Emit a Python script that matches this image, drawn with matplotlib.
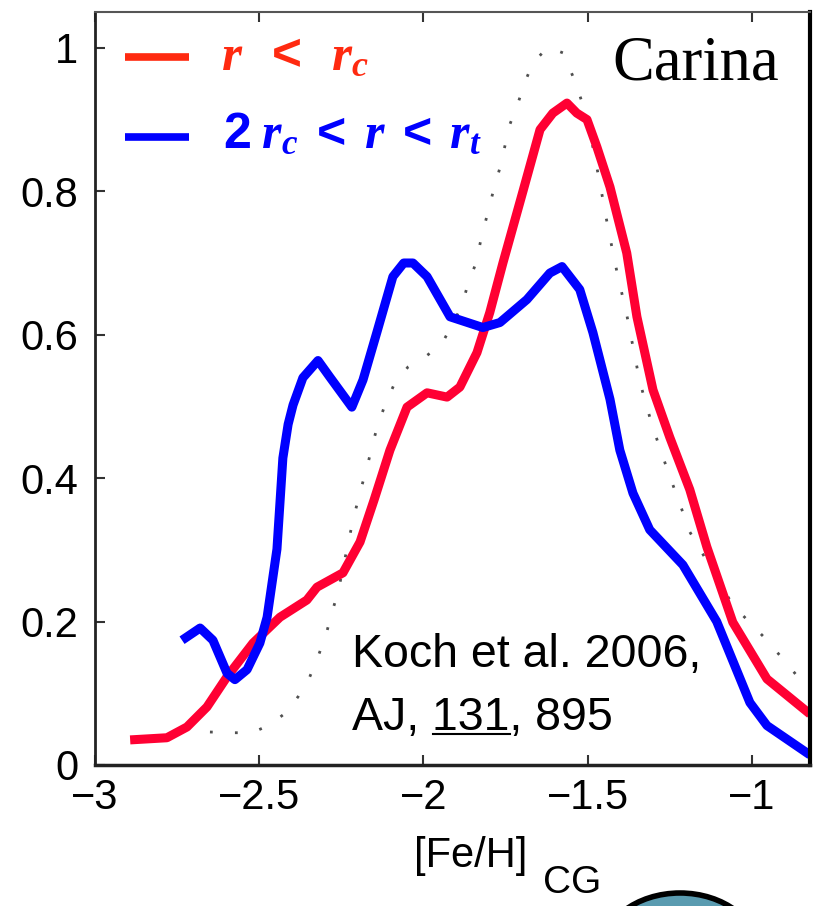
import matplotlib
matplotlib.use("Agg")
import matplotlib.pyplot as plt
from matplotlib import font_manager
from matplotlib.lines import Line2D
from matplotlib.patches import Ellipse

# ---------------- data ----------------
red_x = [-2.893, -2.781, -2.720, -2.659, -2.598, -2.519, -2.437, -2.355, -2.324,
         -2.245, -2.193, -2.150, -2.102, -2.050, -1.989, -1.928, -1.889, -1.837,
         -1.798, -1.758, -1.697, -1.645, -1.606, -1.563, -1.533, -1.502, -1.472,
         -1.432, -1.381, -1.350, -1.301, -1.250, -1.189, -1.137, -1.058, -0.954,
         -0.823]
red_y = [0.035, 0.038, 0.053, 0.081, 0.123, 0.170, 0.206, 0.230, 0.248,
         0.268, 0.311, 0.370, 0.439, 0.499, 0.519, 0.513, 0.527, 0.575,
         0.631, 0.700, 0.800, 0.886, 0.909, 0.923, 0.909, 0.900, 0.862,
         0.806, 0.714, 0.625, 0.523, 0.457, 0.384, 0.304, 0.199, 0.120,
         0.071]

blue_x = [-2.735, -2.680, -2.641, -2.598, -2.574, -2.537, -2.498, -2.476, -2.446,
          -2.428, -2.412, -2.397, -2.367, -2.321, -2.285, -2.218, -2.184, -2.142,
          -2.093, -2.060, -2.032, -1.989, -1.919, -1.819, -1.767, -1.685, -1.615,
          -1.578, -1.524, -1.484, -1.432, -1.402, -1.362, -1.311, -1.210, -1.107,
          -1.006, -0.954, -0.823]
blue_y = [0.174, 0.191, 0.174, 0.128, 0.119, 0.133, 0.170, 0.206, 0.301,
          0.428, 0.475, 0.502, 0.540, 0.564, 0.541, 0.499, 0.537, 0.603,
          0.681, 0.700, 0.700, 0.681, 0.625, 0.610, 0.617, 0.649, 0.686,
          0.695, 0.663, 0.603, 0.510, 0.439, 0.379, 0.328, 0.279, 0.200,
          0.087, 0.055, 0.014]

all_x = [-2.650, -2.583, -2.522, -2.467, -2.416, -2.382, -2.346, -2.321, -2.297,
         -2.279, -2.260, -2.224, -2.209, -2.193, -2.172, -2.157, -2.139, -2.117,
         -2.087, -2.047, -1.995, -1.944, -1.883, -1.865, -1.840, -1.822, -1.804,
         -1.788, -1.767, -1.737, -1.712, -1.691, -1.667, -1.621, -1.575, -1.540,
         -1.502, -1.463, -1.438, -1.411, -1.381, -1.341, -1.304, -1.259, -1.213,
         -1.189, -1.058, -0.954, -0.823]
all_y = [0.046, 0.045, 0.045, 0.056, 0.074, 0.095, 0.123, 0.151, 0.181,
         0.212, 0.241, 0.321, 0.351, 0.381, 0.414, 0.444, 0.474, 0.502,
         0.533, 0.555, 0.569, 0.587, 0.640, 0.670, 0.700, 0.739, 0.770,
         0.799, 0.833, 0.893, 0.923, 0.952, 0.979, 1.001, 0.993, 0.955,
         0.904, 0.812, 0.749, 0.688, 0.628, 0.534, 0.474, 0.414, 0.356,
         0.325, 0.223, 0.174, 0.103]

x_ticks = [-3, -2.5, -2, -1.5, -1]
x_tick_labels = ["\u22123", "\u22122.5", "\u22122", "\u22121.5", "\u22121"]
y_ticks = [0, 0.2, 0.4, 0.6, 0.8, 1.0]
y_tick_labels = ["0", "0.2", "0.4", "0.6", "0.8", "1"]

# ---------------- fonts ----------------
names = {f.name for f in font_manager.fontManager.ttflist}
if "Liberation Sans Narrow" in names:
    tick_family, tick_size = "Liberation Sans Narrow", 34
else:
    tick_family, tick_size = "Liberation Sans", 30

plt.rcParams.update({
    "mathtext.fontset": "custom",
    "mathtext.it": "Liberation Serif:italic:bold",
    "mathtext.rm": "Liberation Sans:bold",
    "mathtext.bf": "Liberation Sans:bold",
})

W, H = 814, 906
fig = plt.figure(figsize=(W / 100, H / 100), dpi=100)
ax = fig.add_axes([95 / W, 1 - 765 / H, (810 - 95) / W, (765 - 12) / H])

red_c = "#ff0033"
blue_c = "#0000ff"

ax.plot(all_x, all_y, color="#505050", lw=2.0, linestyle=(0, (1, 8)))
ax.plot(red_x, red_y, color=red_c, lw=6.5, solid_joinstyle="round",
        solid_capstyle="butt")
ax.plot(blue_x, blue_y, color=blue_c, lw=6.5, solid_joinstyle="round",
        solid_capstyle="butt")

ax.set_xlim(-3, -0.823)
ax.set_ylim(0, 1.05)
ax.set_xticks(x_ticks)
ax.set_xticklabels(x_tick_labels, family=tick_family, fontsize=tick_size)
ax.set_yticks(y_ticks)
ax.set_yticklabels(y_tick_labels, family=tick_family, fontsize=tick_size)
ax.tick_params(axis="both", direction="in", length=7, width=1.5, color="#333333")
ax.tick_params(axis="x", top=True, pad=9.5)
ax.tick_params(axis="y", right=False, pad=12)

ax.spines["left"].set_linewidth(2)
ax.spines["left"].set_color("#222222")
ax.spines["bottom"].set_linewidth(2.5)
ax.spines["bottom"].set_color("#222222")
ax.spines["top"].set_linewidth(1.5)
ax.spines["top"].set_color("#555555")
ax.spines["right"].set_linewidth(3)
ax.spines["right"].set_color("black")

# x label  [Fe/H]_CG
fig.text(414 / W, 1 - 867 / H, "[Fe/H]", family=tick_family, fontsize=tick_size,
         va="baseline", ha="left")
fig.text(543 / W, 1 - 893 / H, "CG", family=tick_family, fontsize=tick_size - 2,
         va="baseline", ha="left")

# legend
leg_red = "#ff2a10"
fig.add_artist(Line2D([125 / W, 189 / W], [1 - 57 / H] * 2, color=leg_red, lw=5.5,
                      solid_capstyle="butt"))
fig.add_artist(Line2D([125 / W, 189 / W], [1 - 137 / H] * 2, color=blue_c, lw=5.5,
                      solid_capstyle="butt"))
fig.text(221 / W, 1 - 70 / H, r"$r\;\;<\;\;r_c$", color=leg_red, fontsize=37,
         va="baseline", ha="left")
fig.text(223 / W, 1 - 148 / H, r"$2\;r_c\;<\;r\;<\;r_t$", color=blue_c, fontsize=36,
         va="baseline", ha="left")

# annotations
fig.text(612 / W, 1 - 80 / H, "Carina", family="Liberation Serif", fontsize=45,
         va="baseline", ha="left", color="black")
fig.text(352 / W, 1 - 667 / H, "Koch et al. 2006,", family="Liberation Sans",
         fontsize=33.5, va="baseline", ha="left")
fig.text(352 / W, 1 - 730 / H, "AJ, 131, 895", family="Liberation Sans",
         fontsize=33.5, va="baseline", ha="left")
fig.add_artist(Line2D([433 / W, 510 / W], [1 - 734 / H] * 2, color="black", lw=1.5))

# galaxy image fragment at the bottom right
fig.add_artist(Ellipse((680 / W, 1 - 955 / H), 160 / W, 124 / H, facecolor="#5a9bb0",
                       edgecolor="black", lw=4, clip_on=False))

fig.savefig("out.png", dpi=100)
